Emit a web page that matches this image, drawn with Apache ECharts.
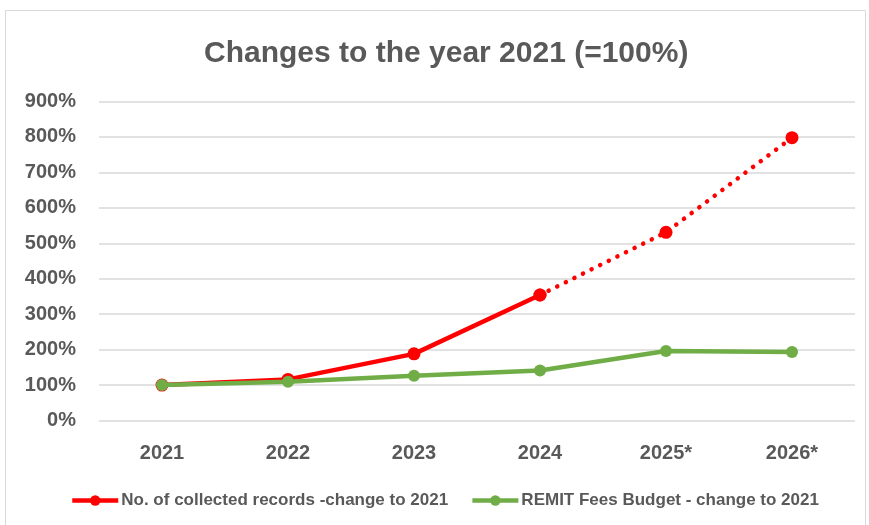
<!DOCTYPE html>
<html><head><meta charset="utf-8">
<script src="https://cdn.jsdelivr.net/npm/echarts@6/dist/echarts.min.js"></script>
<style>html,body{margin:0;padding:0;background:#fff}#c{width:869px;height:525px}</style>
</head><body><div id="c"></div>
<script>
const categories = ['2021','2022','2023','2024','2025*','2026*'];
const recordsName = 'No. of collected records -change to 2021';
const budgetName = 'REMIT Fees Budget - change to 2021';
const records = [100, 116, 188, 354, 531, 798];
const budget = [100, 109, 126, 141, 196, 193];
const forecastStart = 3; // index where the dotted (forecast) part begins
const yTicks = [0, 100, 200, 300, 400, 500, 600, 700, 800, 900];

const actualPart = records.map((v, i) => i <= forecastStart ? v : '-');
const forecastPart = records.map((v, i) => i >= forecastStart ? v : '-');

const FONT = '"Liberation Sans", sans-serif';
const chart = echarts.init(document.getElementById('c'), null, {renderer: 'canvas'});
chart.setOption({
  animation: false,
  title: {
    text: 'Changes to the year 2021 (=100%)',
    left: 199, top: 34,
    textStyle: {fontFamily: FONT, fontWeight: 'bold', fontSize: 30, color: '#595959'}
  },
  graphic: [{type: 'rect', shape: {x: 5.5, y: 10.5, width: 860, height: 530},
    style: {fill: 'none', stroke: '#d9d9d9', lineWidth: 1}, silent: true}],
  grid: {left: 99, right: 14, top: 101.5, bottom: 104.5},
  legend: {
    bottom: 11, left: 65, itemGap: 22, itemWidth: 46, itemHeight: 13,
    data: [recordsName, budgetName],
    lineStyle: {width: 4.5, type: 'solid'},
    textStyle: {fontFamily: FONT, fontWeight: 'bold', fontSize: 17, color: '#595959', padding: [0, 0, 0, -2]}
  },
  xAxis: {
    type: 'category', data: categories, boundaryGap: true,
    axisLine: {show: false}, axisTick: {show: false},
    axisLabel: {fontFamily: FONT, fontWeight: 'bold', fontSize: 20, color: '#595959', margin: 23}
  },
  yAxis: {
    type: 'value', min: yTicks[0], max: yTicks[yTicks.length - 1], interval: 100,
    axisLine: {show: false}, axisTick: {show: false},
    axisLabel: {fontFamily: FONT, fontWeight: 'bold', fontSize: 20, color: '#595959', margin: 23,
      formatter: v => v + '%'},
    splitLine: {lineStyle: {color: '#d9d9d9', width: 1.5}}
  },
  series: [
    {name: recordsName, type: 'line', data: actualPart, symbol: 'circle', symbolSize: 13,
      itemStyle: {color: '#ff0000'}, lineStyle: {color: '#ff0000', width: 4.5}, z: 3},
    {name: recordsName, type: 'line', data: forecastPart, symbol: 'circle', symbolSize: 13,
      itemStyle: {color: '#ff0000'},
      lineStyle: {color: '#ff0000', width: 4.5, type: [0.1, 9.5], cap: 'round'}, z: 3},
    {name: budgetName, type: 'line', data: budget, symbol: 'circle', symbolSize: 12,
      itemStyle: {color: '#70ad47'}, lineStyle: {color: '#70ad47', width: 4.5}, z: 4}
  ]
});
</script></body></html>
